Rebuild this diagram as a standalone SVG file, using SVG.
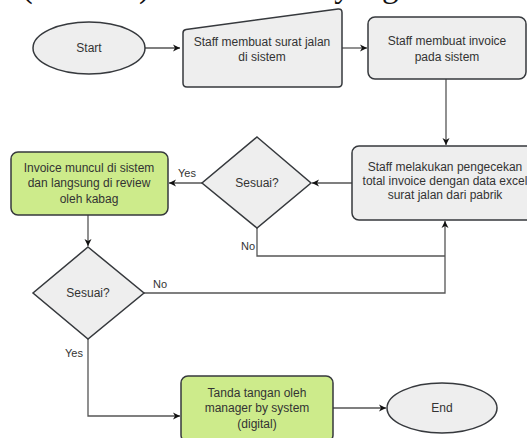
<svg xmlns="http://www.w3.org/2000/svg" width="527" height="438" viewBox="0 0 527 438">
<defs>
<style>
.shape{fill:#eeeeee;stroke:#36393d;stroke-width:1.5}
.green{fill:#cdeb8b;stroke:#36393d;stroke-width:1.5}
.t{font-family:"Liberation Sans",Arial,sans-serif;font-size:12px;fill:#333333;text-anchor:middle}
.lbl{font-family:"Liberation Sans",Arial,sans-serif;font-size:11px;fill:#333333}
.edge{fill:none;stroke:#555555;stroke-width:1.3}
</style>
<marker id="arr" markerWidth="8" markerHeight="8" refX="7" refY="4" orient="auto" markerUnits="userSpaceOnUse">
<path d="M0,0.5 L7,4 L0,7.5 L2,4 Z" fill="#111111"/>
</marker>
</defs>
<rect width="527" height="438" fill="#ffffff"/>
<text x="-3" y="-3" font-family="'Liberation Serif','Times New Roman',serif" font-size="33" fill="#111">1 (Gambar) untuk sistem yang diusulkan</text>

<g id="connectors">
<path class="edge" d="M145,48 L180,48" marker-end="url(#arr)"/>
<path class="edge" d="M342,48 L367,48" marker-end="url(#arr)"/>
<path class="edge" d="M446,79 L446,145" marker-end="url(#arr)"/>
<path class="edge" d="M352,183 L312,183" marker-end="url(#arr)"/>
<path class="edge" d="M202,183 L169,183" marker-end="url(#arr)"/>
<path class="edge" d="M257,228 L257,256 L445,256"/>
<path class="edge" d="M144,293 L445,293 L445,221" marker-end="url(#arr)"/>
<path class="edge" d="M88,215 L88,246" marker-end="url(#arr)"/>
<path class="edge" d="M88,339 L88,416 L180,416" marker-end="url(#arr)"/>
<path class="edge" d="M333,408 L386,408" marker-end="url(#arr)"/>
<text class="lbl" x="178" y="177">Yes</text>
<text class="lbl" x="241" y="250">No</text>
<text class="lbl" x="153" y="288">No</text>
<text class="lbl" x="65" y="357">Yes</text>
</g>

<g id="start">
<ellipse class="shape" cx="89" cy="48" rx="56" ry="26"/>
<text class="t" x="89" y="52">Start</text>
</g>

<g id="surat-jalan">
<path class="shape" d="M186,29.5 L338,9 Q342,8.5 342,12.5 L342,83 Q342,87 338,87 L187,87 Q183,87 183,83 L183,33 Q183,30 186,29.5 Z"/>
<text class="t" x="262" y="46">Staff membuat surat jalan</text>
<text class="t" x="262" y="61">di sistem</text>
</g>

<g id="invoice">
<rect class="shape" x="368" y="17" width="158" height="62" rx="7"/>
<text class="t" x="447" y="45">Staff membuat invoice</text>
<text class="t" x="447" y="61">pada sistem</text>
</g>

<g id="pengecekan">
<rect class="shape" x="352" y="146" width="186" height="74" rx="7"/>
<text class="t" x="445" y="171">Staff melakukan pengecekan</text>
<text class="t" x="445" y="185">total invoice dengan data excel</text>
<text class="t" x="445" y="199">surat jalan dari pabrik</text>
</g>

<g id="sesuai1">
<path class="shape" d="M257,137 L311,183 L257,228 L202,183 Z"/>
<text class="t" x="257" y="187">Sesuai?</text>
</g>

<g id="review">
<rect class="green" x="11" y="152" width="157" height="63" rx="7"/>
<text class="t" x="89" y="172">Invoice muncul di sistem</text>
<text class="t" x="89" y="187">dan langsung di review</text>
<text class="t" x="89" y="203">oleh kabag</text>
</g>

<g id="sesuai2">
<path class="shape" d="M88,247 L144,293 L88,339 L33,293 Z"/>
<text class="t" x="88" y="297">Sesuai?</text>
</g>

<g id="tanda-tangan">
<rect class="green" x="181" y="376" width="152" height="66" rx="7"/>
<text class="t" x="257" y="397">Tanda tangan oleh</text>
<text class="t" x="257" y="412">manager by system</text>
<text class="t" x="257" y="428">(digital)</text>
</g>

<g id="end">
<ellipse class="shape" cx="442" cy="408" rx="55" ry="25"/>
<text class="t" x="442" y="412">End</text>
</g>
</svg>
